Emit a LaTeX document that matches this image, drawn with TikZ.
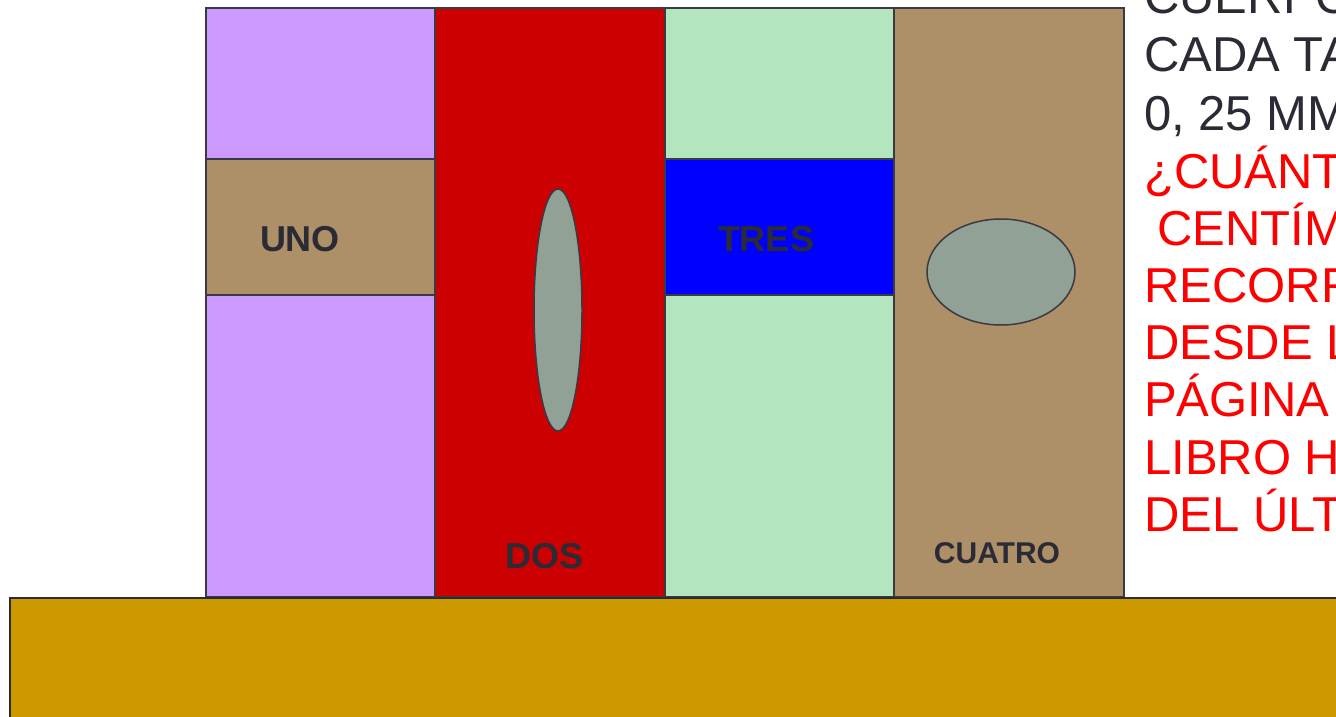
\documentclass[tikz,border=0pt]{standalone}
\usepackage{fontspec}
\setmainfont{Liberation Sans}
\definecolor{purp}{HTML}{CC99FF}
\definecolor{brn}{HTML}{AD8F68}
\definecolor{rd}{HTML}{CC0000}
\definecolor{lgreen}{HTML}{B3E6BF}
\definecolor{blu}{HTML}{0000FF}
\definecolor{oval}{HTML}{91A195}
\definecolor{shelf}{HTML}{CC9900}
\definecolor{ink}{HTML}{2B2B36}
\definecolor{edge}{HTML}{3A3A45}
\definecolor{qred}{HTML}{FF0000}
\begin{document}
\begin{tikzpicture}[x=1pt,y=-1pt,
  part/.style={draw=edge,line width=1.5pt},
  booklabel/.style={font=\bfseries\fontsize{36}{36}\selectfont,text=ink,inner sep=0pt,anchor=base},
  qline/.style={font=\fontsize{49}{49}\selectfont,inner sep=0pt,anchor=base west}]
\useasboundingbox (0,0) rectangle (1336,717);
\clip (0,0) rectangle (1336,717);
% book 1
\filldraw[part,fill=purp] (206,8) rectangle (435,597);
\filldraw[part,fill=brn] (206,159) rectangle (435,295);
% book 2
\filldraw[part,fill=rd] (435,8) rectangle (665,597);
\filldraw[part,fill=oval] (558,310) ellipse [x radius=24,y radius=121];
% book 3
\filldraw[part,fill=lgreen] (665,8) rectangle (894,597);
\filldraw[part,fill=blu] (665,159) rectangle (894,295);
% book 4
\filldraw[part,fill=brn] (894,8) rectangle (1124,597);
\filldraw[part,fill=oval] (1001,272) ellipse [x radius=74,y radius=53];
% shelf
\filldraw[draw=ink,line width=2.2pt,fill=shelf] (10,598) rectangle (1350,740);
% labels
\node[booklabel] (uno) at (300,251) {UNO};
\node[booklabel] (dos) at (545,568) {DOS};
\node[booklabel] (tres) at (766,251) {TRES};
\node[booklabel,font=\bfseries\fontsize{30}{30}\selectfont] (cuatro) at (997,563) {CUATRO};
% question text
\node[qline,text=ink] (l1) at (1144,14) {CUERPO};
\node[qline,text=ink] (l2) at (1144,72) {CADA TA};
\node[qline,text=ink] (l3) at (1144,130) {0, 25 MM};
\node[qline,text=qred] (l4) at (1144,188) {¿CUÁNT};
\node[qline,text=qred] (l5) at (1157,245) {CENTÍM};
\node[qline,text=qred] (l6) at (1144,302) {RECORR};
\node[qline,text=qred] (l7) at (1144,359) {DESDE L};
\node[qline,text=qred] (l8) at (1144,416) {PÁGINA};
\node[qline,text=qred] (l9) at (1144,474) {LIBRO H};
\node[qline,text=qred] (l10) at (1144,531) {DEL ÚLT};
\end{tikzpicture}
\end{document}
